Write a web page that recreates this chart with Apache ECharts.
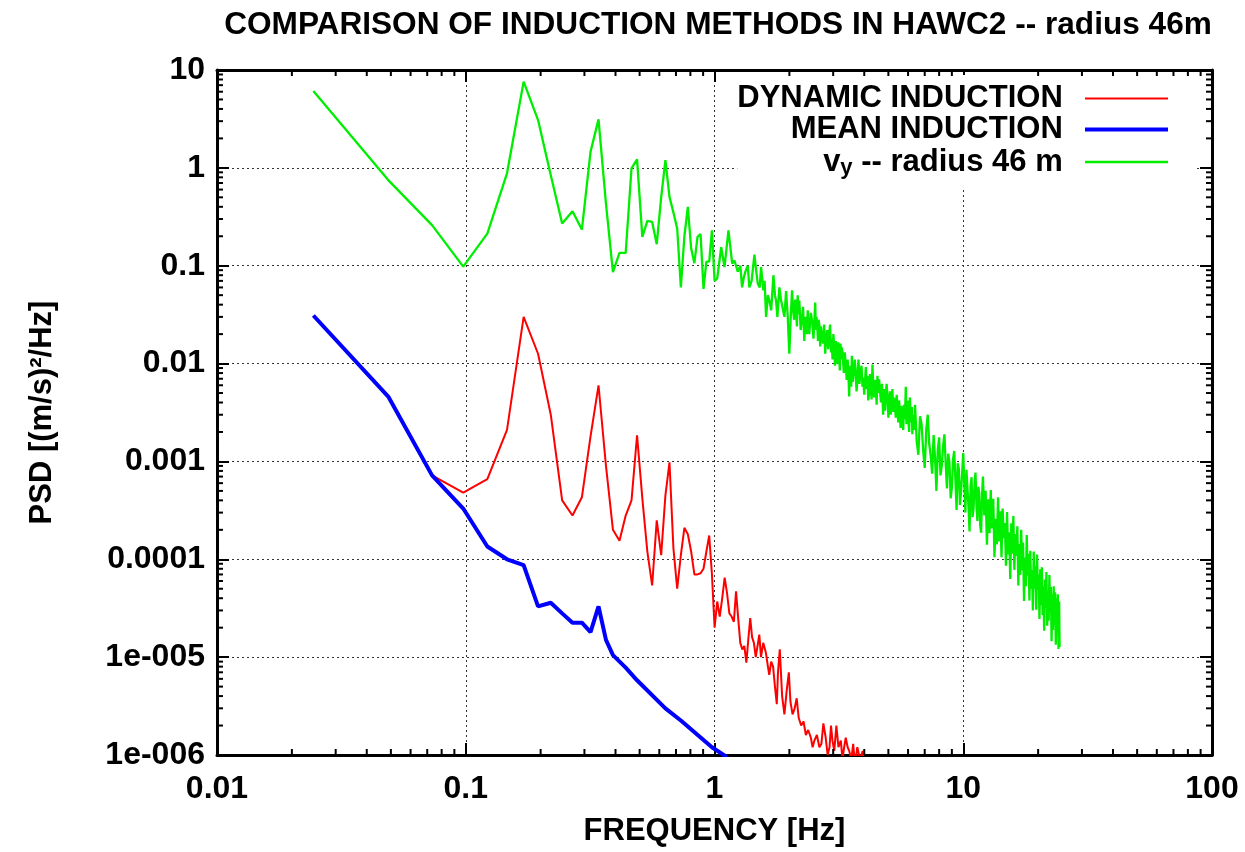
<!DOCTYPE html>
<html><head><meta charset="utf-8">
<script src="https://cdn.jsdelivr.net/npm/echarts@6/dist/echarts.min.js"></script>
<style>html,body{margin:0;padding:0;background:#fff}#c{width:1245px;height:852px}</style>
</head><body><div id="c"></div>
<script>
// ---------------- DATA ----------------
const titleText = 'COMPARISON OF INDUCTION METHODS IN HAWC2 -- radius 46m';
const seriesNames = ['DYNAMIC INDUCTION', 'MEAN INDUCTION', 'vy -- radius 46 m'];
const xTickLabels = ['0.01', '0.1', '1', '10', '100'];              // 1e-2 .. 1e2
const yTickLabels = ['1e-006', '1e-005', '0.0001', '0.001', '0.01', '0.1', '1', '10']; // 1e-6 .. 1e1
const xMinorTicks = [0.02,0.03,0.04,0.05,0.06,0.07,0.08,0.09,0.2,0.3,0.4,0.5,0.6,0.7,0.8,0.9,2,3,4,5,6,7,8,9,20,30,40,50,60,70,80,90];
const yMinorTicks = [2e-6,3e-6,4e-6,5e-6,6e-6,7e-6,8e-6,9e-6,2e-5,3e-5,4e-5,5e-5,6e-5,7e-5,8e-5,9e-5,2e-4,3e-4,4e-4,5e-4,6e-4,7e-4,8e-4,9e-4,2e-3,3e-3,4e-3,5e-3,6e-3,7e-3,8e-3,9e-3,0.02,0.03,0.04,0.05,0.06,0.07,0.08,0.09,0.2,0.3,0.4,0.5,0.6,0.7,0.8,0.9,2,3,4,5,6,7,8,9];

// MEAN INDUCTION (blue)
const blueData = [[0.0244,0.031],[0.0488,4.6e-3],[0.0732,7.2e-4],[0.0977,3.3e-4],[0.1221,1.35e-4],[0.1465,1.0e-4],[0.1709,8.7e-5],[0.1953,3.3e-5],[0.2197,3.6e-5],[0.2441,2.8e-5],[0.2686,2.25e-5],[0.293,2.25e-5],[0.3174,1.8e-5],[0.3418,3.3e-5],[0.3662,1.5e-5],[0.3906,1.05e-5],[0.4395,7.8e-6],[0.4883,5.8e-6],[0.6348,3.0e-6],[0.7324,2.25e-6],[0.9766,1.2e-6],[1.123,9.5e-7]];

// DYNAMIC INDUCTION (red)
const redLow = [[0.0732,7.2e-4],[0.0977,4.8e-4],[0.1221,6.6e-4],[0.1465,2.1e-3],[0.1709,0.030],[0.1953,0.0126],[0.2197,0.003],[0.2441,4.0e-4],[0.2686,2.8e-4],[0.293,4.3e-4],[0.3174,1.8e-3],[0.3418,6.0e-3],[0.3662,9e-4],[0.3906,2.0e-4],[0.415,1.55e-4],[0.4395,2.8e-4],[0.4639,4.0e-4],[0.4883,1.85e-3],[0.5127,4.2e-4],[0.5371,1.2e-4],[0.5615,5.4e-5],[0.5859,2.5e-4],[0.6104,1.1e-4],[0.6348,4.5e-4],[0.6592,9.8e-4],[0.6836,1.3e-4],[0.708,5e-5],[0.7324,1.1e-4],[0.7568,2.1e-4],[0.7813,1.8e-4],[0.8057,1.2e-4],[0.8301,7e-5],[0.8545,7e-5],[0.8789,7.2e-5],[0.9033,8e-5],[0.9277,1.2e-4],[0.9521,1.75e-4],[0.9766,7e-5]];
const redHigh = [[1.001,2e-5],[1.0254,3.7e-5],[1.0498,2.6e-5],[1.0742,4e-5],[1.0986,6.5e-5],[1.123,4.5e-5],[1.1475,2.8e-5],[1.1719,2.6e-5],[1.1963,2.3e-5],[1.2207,4.7e-5],[1.2451,2.5e-5],[1.2695,1.4e-5],[1.294,1.2e-5],[1.318,1.3e-5],[1.343,8.8e-6],[1.367,1.5e-5],[1.392,2.5e-5],[1.416,1.6e-5],[1.44,1.4e-5],[1.465,1e-5],[1.489,1.3e-5],[1.514,1.7e-5],[1.538,1e-5],[1.57,1.4e-5],[1.61,1.1e-5],[1.64,8e-6],[1.66,6.6e-6],[1.69,9e-6],[1.72,8e-6],[1.75,5e-6],[1.78,3.3e-6],[1.8,7e-6],[1.83,1.2e-5],[1.87,4e-6],[1.91,2.6e-6],[1.95,4.5e-6],[1.99,7e-6],[2.02,3.5e-6],[2.06,2.6e-6],[2.1,3e-6],[2.14,3.8e-6],[2.18,2.4e-6],[2.23,2e-6],[2.28,2.2e-6],[2.33,1.6e-6],[2.38,1.8e-6],[2.44,1.5e-6],[2.48,1.2e-6],[2.52,1.4e-6],[2.58,1.6e-6],[2.64,1.2e-6],[2.69,1.3e-6],[2.74,2.1e-6],[2.8,1.5e-6],[2.85,1e-6],[2.9,1.2e-6],[2.94,2e-6],[2.98,1.4e-6],[3.03,1.1e-6],[3.09,2e-6],[3.15,1.2e-6],[3.22,1.4e-6],[3.27,9e-7],[3.32,1.2e-6],[3.37,1.5e-6],[3.43,1.2e-6],[3.48,1.1e-6],[3.55,9e-7],[3.61,1.3e-6],[3.67,8e-7],[3.75,1.2e-6],[3.85,9e-7],[3.94,1.1e-6],[4.0,7e-7]];

// vy -- radius 46 m (green)
const greenLow = [[0.0244,6.1],[0.0488,0.75],[0.0732,0.26],[0.0977,0.098],[0.1221,0.213],[0.1465,0.88],[0.1709,7.6],[0.1953,3.08],[0.2197,0.84],[0.2441,0.27],[0.2686,0.36],[0.293,0.234],[0.3174,1.46],[0.3418,3.13],[0.3662,0.43],[0.3906,0.086],[0.415,0.135],[0.4395,0.135],[0.4639,0.99],[0.4883,1.22],[0.5127,0.197],[0.5371,0.287],[0.5615,0.28],[0.5859,0.166],[0.6104,0.5],[0.6348,1.2],[0.6592,0.505],[0.6836,0.35],[0.708,0.24],[0.7324,0.06],[0.7568,0.2],[0.7813,0.4],[0.8057,0.15],[0.8301,0.106],[0.8545,0.197],[0.8789,0.21],[0.9033,0.058],[0.9277,0.11],[0.9521,0.11],[0.9766,0.23],[1.001,0.07],[1.0254,0.074]];
const greenMid = [[1.064,0.155],[1.097,0.097],[1.138,0.23],[1.178,0.105],[1.203,0.113],[1.24,0.087],[1.27,0.1],[1.291,0.06],[1.31,0.075],[1.331,0.087],[1.36,0.1],[1.381,0.06],[1.41,0.07],[1.447,0.13],[1.47,0.09],[1.492,0.066],[1.52,0.06],[1.539,0.097],[1.572,0.056],[1.59,0.07],[1.612,0.03],[1.64,0.05],[1.662,0.044],[1.69,0.035],[1.725,0.08],[1.75,0.05],[1.768,0.044],[1.79,0.03],[1.823,0.06],[1.85,0.045],[1.879,0.037],[1.91,0.03],[1.94,0.055],[1.97,0.03],[1.999,0.0126],
  [2.025,0.03],[2.05,0.056],[2.07,0.035],[2.09,0.028],[2.11,0.045],[2.127,0.035],[2.145,0.024],[2.16,0.05],[2.175,0.032],[2.193,0.044],[2.22,0.022],[2.25,0.03],[2.27,0.038],[2.296,0.017],[2.315,0.03],[2.333,0.027],[2.35,0.02],[2.37,0.035],[2.39,0.024],[2.404,0.02],[2.44,0.033],[2.47,0.027],[2.5,0.018],[2.541,0.042],[2.555,0.022],[2.57,0.03],[2.59,0.024],[2.606,0.017],[2.62,0.028],[2.64,0.025],[2.66,0.015],[2.679,0.024],[2.7,0.019],[2.73,0.016],[2.76,0.025],[2.787,0.0126],[2.81,0.018],[2.84,0.022],[2.865,0.014],[2.893,0.02],[2.915,0.025],[2.94,0.013],[2.96,0.018],[2.982,0.011],[3.005,0.02],
  [3.03,0.015],[3.05,0.0095],[3.077,0.017],[3.1,0.013],[3.12,0.01],[3.145,0.0165],[3.172,0.0116],[3.19,0.0085],[3.21,0.016],[3.23,0.011],[3.252,0.0146],[3.28,0.012],[3.31,0.008],[3.34,0.013],[3.374,0.0093],[3.4,0.0068],[3.43,0.011],[3.455,0.0078],[3.479,0.0046],[3.5,0.0095],[3.52,0.007],[3.545,0.0058],[3.567,0.012],[3.6,0.0065],[3.63,0.0085],[3.665,0.011],[3.701,0.0073],[3.725,0.0052],[3.75,0.0065],[3.77,0.0088],[3.792,0.011],[3.825,0.0062],[3.86,0.008],[3.9,0.0095],[3.934,0.0058],[3.965,0.0072],
  [4.0,0.0048],[4.03,0.0068],[4.059,0.0092],[4.09,0.0055],[4.12,0.0075],[4.15,0.0042],[4.185,0.005],[4.22,0.0078],[4.25,0.0062],[4.28,0.0043],[4.315,0.0098],[4.35,0.0057],[4.38,0.0045],[4.415,0.0068],[4.453,0.0058],[4.485,0.0038],[4.52,0.0075],[4.555,0.005],[4.59,0.0069],[4.63,0.0052],[4.67,0.004],[4.715,0.0062],[4.763,0.003],[4.79,0.0045],[4.82,0.0055],[4.85,0.0033],[4.883,0.005],[4.92,0.0062],[4.96,0.0045],
  [5.0,0.0028],[5.035,0.0036],[5.07,0.0052],[5.11,0.003],[5.15,0.0042],[5.191,0.0055],[5.23,0.0032],[5.27,0.0045],[5.31,0.0038],[5.356,0.0028],[5.4,0.0048],[5.44,0.0035],[5.48,0.0025],[5.521,0.0042],[5.56,0.0032],[5.6,0.0022],[5.645,0.0037],[5.692,0.0026],[5.735,0.0021],[5.78,0.0038],[5.83,0.0027],[5.874,0.0058],[5.91,0.0024],[5.95,0.0035],[5.985,0.0042],
  [6.017,0.0028],[6.06,0.002],[6.1,0.0045],[6.14,0.0032],[6.18,0.0025],[6.21,0.0036],[6.243,0.0019],[6.27,0.0026],[6.3,0.003],[6.35,0.0021]];
const greenTail = [[6.4,3.8e-3],[6.5,1.6e-3],[6.6,1.17e-3],[6.7,2.9e-3],[6.8,2.4e-3],[6.9,1.3e-3],[7.0,8.6e-4],[7.1,2.1e-3],[7.2,3.0e-3],[7.3,1.5e-3],[7.4,1.14e-3],[7.5,7.5e-4],[7.6,1.86e-3],[7.7,1.1e-3],[7.8,5.0e-4],[7.9,1.3e-3],[8.0,1.76e-3],[8.1,7.2e-4],[8.2,9.1e-4],[8.3,1.45e-3],[8.4,1.89e-3],[8.5,9.5e-4],[8.6,5.3e-4],[8.7,1.2e-3],[8.8,9.8e-4],[8.9,4.2e-4],[9.0,5.4e-4],[9.1,1.05e-3],[9.2,1.28e-3],[9.3,6.5e-4],[9.4,3.2e-4],[9.5,9.6e-4],[9.6,8.4e-4],[9.7,3.6e-4],[9.8,5.0e-4],[9.9,7.6e-4],[10.0,1.22e-3],[10.1,5.8e-4],[10.2,3.0e-4],[10.3,8.2e-4],[10.4,5.3e-4],[10.5,3.4e-4],[10.6,1.92e-4],[10.7,5.6e-4],[10.8,6.9e-4],[10.9,2.7e-4],[11.0,3.3e-4],[11.1,5.9e-4],[11.2,7.7e-4],[11.3,3.6e-4],[11.4,2.47e-4],[11.5,5.5e-4],[11.6,4.7e-4],[11.7,2.2e-4],[11.8,1.87e-4],[11.9,4.4e-4],[12.0,7.0e-4],[12.15,2.8e-4],[12.3,5.0e-4],[12.45,1.41e-4],[12.6,4.1e-4],[12.75,1.85e-4],[12.9,5.1e-4],[13.05,2.06e-4],[13.2,4.15e-4],[13.35,1.05e-4],[13.5,2.6e-4],[13.65,1.42e-4],[13.8,4.3e-4],[13.95,1.52e-4],[14.1,3.1e-4],[14.25,1.05e-4],[14.4,3.3e-4],[14.55,1.64e-4],[14.7,2.35e-4],[14.85,8.6e-5],[15.0,3.04e-4],[15.15,1.12e-4],[15.3,1.89e-4],[15.45,6.3e-5],[15.6,2.34e-4],[15.75,1.14e-4],[15.9,2.77e-4],[16.05,7.8e-5],[16.2,1.81e-4],[16.35,1.08e-4],[16.5,2.17e-4],[16.65,5.4e-5],[16.8,1.43e-4],[16.95,6.9e-5],[17.1,2.0e-4],[17.25,7.7e-5],[17.4,1.48e-4],[17.55,3.75e-5],[17.7,1.04e-4],[17.85,5.3e-5],[18.0,1.77e-4],[18.15,6.8e-5],[18.3,1.14e-4],[18.45,3.8e-5],[18.6,1.22e-4],[18.75,5.0e-5],[18.9,7.7e-5],[19.05,3.0e-5],[19.2,1.2e-4],[19.35,5.0e-5],[19.5,8.6e-5],[19.65,3.05e-5],[19.8,1.12e-4],[19.95,4.9e-5],[20.1,7.0e-5],[20.25,2.45e-5],[20.4,7.9e-5],[20.55,3.4e-5],[20.7,8.3e-5],[20.85,2.7e-5],[21.0,5.3e-5],[21.15,1.86e-5],[21.3,6.2e-5],[21.45,3.2e-5],[21.6,7.4e-5],[21.75,2.1e-5],[21.9,4.8e-5],[22.05,2.35e-5],[22.2,6.9e-5],[22.35,2.9e-5],[22.5,5.2e-5],[22.65,1.45e-5],[22.8,4.4e-5],[22.95,1.9e-5],[23.1,5.3e-5],[23.25,2.15e-5],[23.4,4.6e-5],[23.55,1.34e-5],[23.7,4.0e-5],[23.85,2.1e-5],[24.0,4.4e-5],[24.15,1.21e-5],[24.3,3.7e-5],[24.4,1.27e-5]];

// ---------------- CHART ----------------
const X_MIN = 0.01, X_MAX = 100, Y_MIN = 1e-6, Y_MAX = 10;
const FONT = '"Liberation Sans", Arial, Helvetica, sans-serif';
const txt = (size) => ({ fontFamily: FONT, fontWeight: 'bold', fontSize: size, color: '#000' });
const expIndex = (v) => Math.round(Math.log10(v));

const chart = echarts.init(document.getElementById('c'), null, { renderer: 'canvas' });

function tickRenderer(isX) {
  return function (params, api) {
    const v = api.value(isX ? 0 : 1);
    const len = 6;
    const st = { stroke: '#000', lineWidth: 2 };
    if (isX) {
      const b = api.coord([v, Y_MIN]), t = api.coord([v, Y_MAX]);
      return { type: 'group', children: [
        { type: 'line', shape: { x1: b[0], y1: b[1], x2: b[0], y2: b[1] - len }, style: st },
        { type: 'line', shape: { x1: t[0], y1: t[1], x2: t[0], y2: t[1] + len }, style: st }
      ]};
    } else {
      const l = api.coord([X_MIN, v]), r = api.coord([X_MAX, v]);
      return { type: 'group', children: [
        { type: 'line', shape: { x1: l[0], y1: l[1], x2: l[0] + len, y2: l[1] }, style: st },
        { type: 'line', shape: { x1: r[0], y1: r[1], x2: r[0] - len, y2: r[1] }, style: st }
      ]};
    }
  };
}

const axisLine = { show: true, onZero: false, lineStyle: { color: '#000', width: 3 } };
const majorTick = { show: true, inside: true, length: 12, lineStyle: { color: '#000', width: 2 } };
const gridLine = { show: true, lineStyle: { color: '#333', width: 1, type: [2, 3] } };
const hiddenSymbol = { opacity: 0, color: 'rgba(0,0,0,0)', borderWidth: 0 };

const option = {
  backgroundColor: '#fff',
  animation: false,
  title: {
    text: titleText, left: 713, top: 4, textAlign: 'center',
    textStyle: txt(31.6)
  },
  grid: { left: 217, right: 33, top: 70, bottom: 97, containLabel: false },
  legend: {
    orient: 'vertical', align: 'right', right: 50, top: 75,
    padding: [8, 25, 8, 0], backgroundColor: '#fff',
    itemWidth: 83, itemHeight: 14, itemGap: 0, selectedMode: false,
    itemStyle: hiddenSymbol,
    data: [
      { name: seriesNames[0], lineStyle: { width: 2 }, itemStyle: hiddenSymbol },
      { name: seriesNames[1], lineStyle: { width: 4 }, itemStyle: hiddenSymbol },
      { name: seriesNames[2], lineStyle: { width: 2.5 }, itemStyle: hiddenSymbol }
    ],
    formatter: function (name) {
      if (name === seriesNames[2]) return '{t|v}{s|y}{t| -- radius 46 m  }';
      return '{t|' + name + '  }';
    },
    textStyle: Object.assign(txt(31), {
      rich: {
        t: Object.assign(txt(31), { lineHeight: 31 }),
        s: Object.assign(txt(22), { lineHeight: 22, padding: [12, 0, 0, 0] })
      }
    })
  },
  xAxis: [
    {
      type: 'log', logBase: 10, min: X_MIN, max: X_MAX, position: 'bottom',
      axisLine, axisTick: majorTick, splitLine: gridLine,
      axisLabel: Object.assign(txt(32), { margin: 18, formatter: (v) => xTickLabels[expIndex(v) + 2] }),
      name: 'FREQUENCY [Hz]', nameLocation: 'middle', nameGap: 61, nameTextStyle: txt(31)
    },
    {
      type: 'log', logBase: 10, min: X_MIN, max: X_MAX, position: 'top',
      axisLine, axisTick: majorTick, splitLine: { show: false }, axisLabel: { show: false }
    }
  ],
  yAxis: [
    {
      type: 'log', logBase: 10, min: Y_MIN, max: Y_MAX, position: 'left',
      axisLine, axisTick: majorTick, splitLine: gridLine,
      axisLabel: Object.assign(txt(32), { margin: 12, formatter: (v) => yTickLabels[expIndex(v) + 6] }),
      name: 'PSD [(m/s)\u00B2/Hz]', nameLocation: 'middle', nameGap: 159, nameTextStyle: txt(31)
    },
    {
      type: 'log', logBase: 10, min: Y_MIN, max: Y_MAX, position: 'right',
      axisLine, axisTick: majorTick, splitLine: { show: false }, axisLabel: { show: false }
    }
  ],
  series: [
    {
      name: seriesNames[0], type: 'line', xAxisIndex: 0, yAxisIndex: 0,
      data: redLow.concat(redHigh), symbol: 'none', showSymbol: false,
      lineStyle: { color: '#ff0000', width: 2 }, itemStyle: { color: '#ff0000' }, z: 3
    },
    {
      name: seriesNames[1], type: 'line', xAxisIndex: 0, yAxisIndex: 0,
      data: blueData, symbol: 'none', showSymbol: false,
      lineStyle: { color: '#0000ff', width: 4 }, itemStyle: { color: '#0000ff' }, z: 4
    },
    {
      name: seriesNames[2], type: 'line', xAxisIndex: 0, yAxisIndex: 0,
      data: greenLow.concat(greenMid, greenTail), symbol: 'none', showSymbol: false,
      lineStyle: { color: '#00ee00', width: 2.3 }, itemStyle: { color: '#00ee00' }, z: 3
    },
    {
      type: 'custom', xAxisIndex: 0, yAxisIndex: 0, clip: false, silent: true, z: 6,
      renderItem: tickRenderer(true), data: xMinorTicks.map(v => [v, Y_MIN])
    },
    {
      type: 'custom', xAxisIndex: 0, yAxisIndex: 0, clip: false, silent: true, z: 6,
      renderItem: tickRenderer(false), data: yMinorTicks.map(v => [X_MIN, v])
    }
  ]
};
chart.setOption(option);
</script>
</body></html>
